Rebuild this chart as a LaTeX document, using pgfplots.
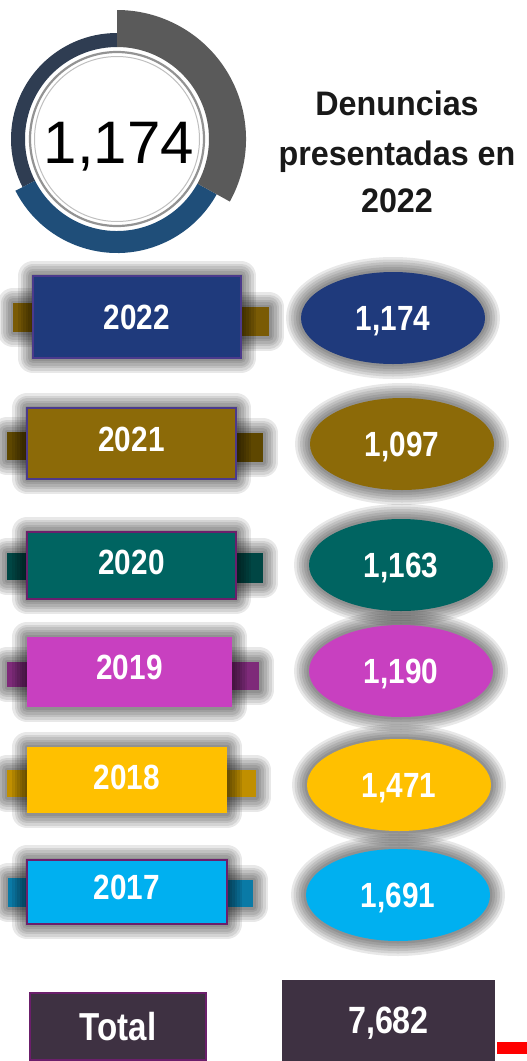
\documentclass[border=0pt]{standalone}
\usepackage{pgfplots}
\pgfplotsset{compat=1.18}
\usetikzlibrary{shapes.geometric}
\usepackage{fontspec}
\setmainfont{Liberation Sans}
\newfontfamily\cond[FakeStretch=0.85]{Liberation Sans}
\newfontfamily\titlef[FakeStretch=0.95]{Liberation Sans}
\definecolor{c22}{HTML}{1F3A7C}\definecolor{t22}{HTML}{7A5B05}
\definecolor{c21}{HTML}{8C6A08}\definecolor{t21}{HTML}{5E4700}
\definecolor{c20}{HTML}{006461}\definecolor{t20}{HTML}{004644}
\definecolor{c19}{HTML}{C840C0}\definecolor{t19}{HTML}{7E2A79}
\definecolor{c18}{HTML}{FFC000}\definecolor{t18}{HTML}{C08F00}
\definecolor{c17}{HTML}{00B0F0}\definecolor{t17}{HTML}{0A7AA6}
\definecolor{bord1}{HTML}{4B3A8C}\definecolor{bord2}{HTML}{6B1F6B}
\definecolor{totc}{HTML}{3E3142}
\definecolor{dDark}{HTML}{2F3D52}\definecolor{dGray}{HTML}{5A5A5A}\definecolor{dBlue}{HTML}{1F4E79}
\newcommand{\yfont}{\cond\bfseries\fontsize{35}{40}\selectfont}
\tikzset{
  glow/.style={preaction={draw=black,draw opacity=.09,line width=30pt,line join=round},
               preaction={draw=black,draw opacity=.09,line width=25pt,line join=round},
               preaction={draw=black,draw opacity=.09,line width=20pt,line join=round},
               preaction={draw=black,draw opacity=.09,line width=15pt,line join=round},
               preaction={draw=black,draw opacity=.09,line width=10pt,line join=round},
               preaction={draw=black,draw opacity=.09,line width=5pt,line join=round}},
  yearbox/.style={rectangle, glow, text=white, font=\yfont, inner sep=0pt, line width=1.5pt, text depth=0pt, anchor=center},
  valell/.style={ellipse, glow, text=white, font=\yfont, inner sep=0pt, minimum width=184pt, minimum height=92pt, text depth=0pt, anchor=center},
  tab/.style={glow},
}
\newcommand{\yr}[1]{\pgfmathprintnumber[assume math mode=true,1000 sep={}]{#1}}
\newcommand{\vl}[1]{\pgfmathprintnumber[assume math mode=true,1000 sep={,}]{#1}}
\begin{document}
\begin{tikzpicture}
\begin{axis}[width=527pt, height=1061pt, scale only axis, hide axis,
  xmin=0, xmax=527, ymin=0, ymax=1061, y dir=reverse, clip=false]
\coordinate (BL) at (rel axis cs:0,0);
\coordinate (TR) at (rel axis cs:1,1);
% donut
\fill[dDark] (axis cs:117,139) ++(90:106pt) arc[start angle=90,end angle=207,radius=106pt] -- ++(207:-14pt) arc[start angle=207,end angle=90,radius=92pt] -- cycle;
\fill[dBlue] (axis cs:117,139) ++(207:114pt) arc[start angle=207,end angle=331,radius=114pt] -- ++(331:-22pt) arc[start angle=331,end angle=207,radius=92pt] -- cycle;
\fill[dGray] (axis cs:117,139) ++(-29:129pt) arc[start angle=-29,end angle=90,radius=129pt] -- ++(0,-37pt) arc[start angle=90,end angle=-29,radius=92pt] -- cycle;
\draw[gray!85, line width=2.2pt] (axis cs:117,139) circle[radius=87pt];
\draw[gray!50, line width=1pt] (axis cs:117,139) circle[radius=82.5pt];
\node[font=\fontsize{60}{60}\selectfont, anchor=base] at (axis cs:119,163) {1,174};
% title
\node[font=\titlef\bfseries\fontsize{34}{40}\selectfont, anchor=base, text=black!90] at (axis cs:397,115) {Denuncias};
\node[font=\titlef\bfseries\fontsize{34}{40}\selectfont, anchor=base, text=black!90] at (axis cs:397,165) {presentadas en};
\node[font=\titlef\bfseries\fontsize{34}{40}\selectfont, anchor=base, text=black!90] at (axis cs:397,212) {2022};
% tabs
\fill[t22,tab] (axis cs:13,303) rectangle (axis cs:33,332);
\fill[t22,tab] (axis cs:241,307) rectangle (axis cs:269,336);
\fill[t21,tab] (axis cs:7,432) rectangle (axis cs:27,460);
\fill[t21,tab] (axis cs:236,433) rectangle (axis cs:263,462);
\fill[t20,tab] (axis cs:7,553) rectangle (axis cs:27,580);
\fill[t20,tab] (axis cs:236,553) rectangle (axis cs:263,583);
\fill[t19,tab] (axis cs:7,662) rectangle (axis cs:27,687);
\fill[t19,tab] (axis cs:230,662) rectangle (axis cs:259,690);
\fill[t18,tab] (axis cs:7,770) rectangle (axis cs:27,797);
\fill[t18,tab] (axis cs:227,770) rectangle (axis cs:256,797);
\fill[t17,tab] (axis cs:8,878) rectangle (axis cs:27,907);
\fill[t17,tab] (axis cs:227,880) rectangle (axis cs:253,907);
% year boxes
\addplot[only marks, mark=none, point meta=explicit, nodes near coords={\yr{\pgfplotspointmeta}},
  every node near coord/.style={yearbox, fill=c22, draw=bord1, minimum width=208pt, minimum height=82pt}]
  coordinates {(137,317) [2022]};
\addplot[only marks, mark=none, point meta=explicit, nodes near coords={\raisebox{8pt}{\yr{\pgfplotspointmeta}}},
  every node near coord/.style={yearbox, fill=c21, draw=bord1, minimum width=209pt, minimum height=71pt}]
  coordinates {(131.5,443.5) [2021]};
\addplot[only marks, mark=none, point meta=explicit, nodes near coords={\raisebox{6pt}{\yr{\pgfplotspointmeta}}},
  every node near coord/.style={yearbox, fill=c20, draw=bord2, minimum width=209pt, minimum height=67pt}]
  coordinates {(131.5,565.5) [2020]};
\addplot[only marks, mark=none, point meta=explicit, nodes near coords={\raisebox{10pt}{\yr{\pgfplotspointmeta}}},
  every node near coord/.style={yearbox, fill=c19, minimum width=205pt, minimum height=70pt}]
  coordinates {(129.5,672) [2019]};
\addplot[only marks, mark=none, point meta=explicit, nodes near coords={\raisebox{5pt}{\yr{\pgfplotspointmeta}}},
  every node near coord/.style={yearbox, fill=c18, minimum width=200pt, minimum height=66pt}]
  coordinates {(127,780) [2018]};
\addplot[only marks, mark=none, point meta=explicit, nodes near coords={\raisebox{9pt}{\yr{\pgfplotspointmeta}}},
  every node near coord/.style={yearbox, fill=c17, draw=bord2, minimum width=200pt, minimum height=64pt}]
  coordinates {(127,892) [2017]};
% value ellipses
\addplot[only marks, mark=none, point meta=explicit, nodes near coords={\vl{\pgfplotspointmeta}},
  every node near coord/.style={valell, fill=c22}] coordinates {(393,318) [1174]};
\addplot[only marks, mark=none, point meta=explicit, nodes near coords={\vl{\pgfplotspointmeta}},
  every node near coord/.style={valell, fill=c21}] coordinates {(402,444) [1097]};
\addplot[only marks, mark=none, point meta=explicit, nodes near coords={\vl{\pgfplotspointmeta}},
  every node near coord/.style={valell, fill=c20}] coordinates {(401,565) [1163]};
\addplot[only marks, mark=none, point meta=explicit, nodes near coords={\vl{\pgfplotspointmeta}},
  every node near coord/.style={valell, fill=c19}] coordinates {(401,671) [1190]};
\addplot[only marks, mark=none, point meta=explicit, nodes near coords={\vl{\pgfplotspointmeta}},
  every node near coord/.style={valell, fill=c18}] coordinates {(399,785) [1471]};
\addplot[only marks, mark=none, point meta=explicit, nodes near coords={\vl{\pgfplotspointmeta}},
  every node near coord/.style={valell, fill=c17}] coordinates {(398,895) [1691]};
% total
\node[rectangle, fill=totc, draw=bord2, line width=2pt, minimum width=176pt, minimum height=67pt, inner sep=0pt,
  text=white, font=\cond\bfseries\fontsize{39}{44}\selectfont, text depth=0pt] at (axis cs:118,1026.5) {Total};
\addplot[only marks, mark=none, point meta=explicit, nodes near coords={\vl{\pgfplotspointmeta}},
  every node near coord/.style={rectangle, fill=totc, minimum width=213pt, minimum height=81pt, inner sep=0pt,
  text=white, font=\cond\bfseries\fontsize{38}{44}\selectfont, text depth=0pt, anchor=center}]
  coordinates {(388.5,1020.5) [7682]};
\fill[red] (axis cs:497,1042) rectangle (axis cs:527,1054);
\end{axis}
\pgfresetboundingbox
\useasboundingbox (BL) rectangle (TR);
\end{tikzpicture}
\end{document}
